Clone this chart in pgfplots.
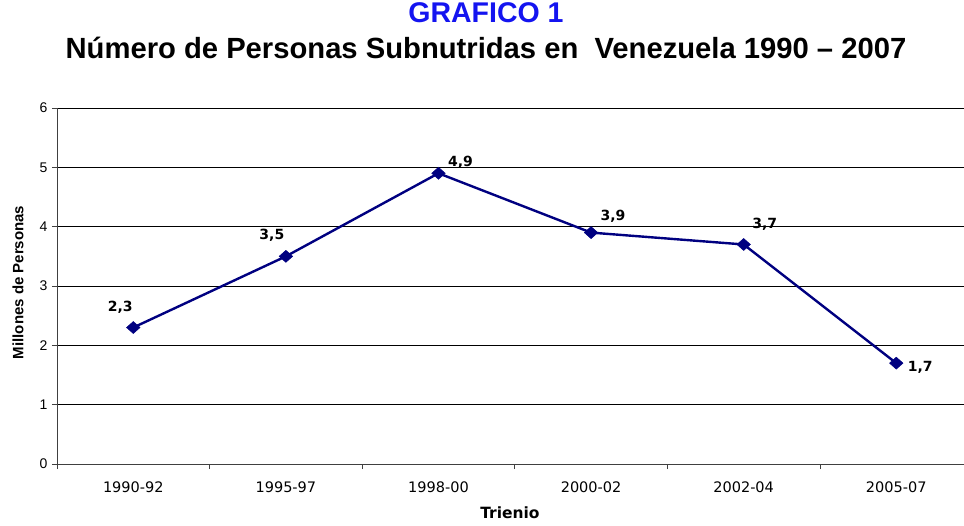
\documentclass[border=0pt]{standalone}
\usepackage{fontspec}
\setmainfont{Liberation Sans}
\newfontfamily\dv{DejaVu Sans}
\usepackage{pgfplots}
\pgfplotsset{compat=1.18}
\definecolor{navyc}{RGB}{0,0,128}
\definecolor{titleblue}{RGB}{20,20,240}
\pgfplotsset{dlabel/.style 2 args={draw=none, point meta=explicit symbolic,
  nodes near coords, nodes near coords style={anchor=center, xshift=#1, yshift=#2,
  font=\dv\bfseries\fontsize{14}{16}\selectfont}}}
\begin{document}
\begin{tikzpicture}
\path[use as bounding box] (0pt,0pt) rectangle (964pt,525pt);
\begin{axis}[at={(57pt,61pt)}, anchor=south west, scale only axis,
  width=907pt, height=356pt,
  xmin=-0.5, xmax=5.444, ymin=0, ymax=6,
  axis x line=bottom, axis y line=left,
  axis line style={-, line width=0.8pt, black!75},
  xtick={0,...,5},
  xticklabels={1990-92,1995-97,1998-00,2000-02,2002-04,2005-07},
  major x tick style={draw=none},
  minor xtick={-0.5,0.5,1.5,2.5,3.5,4.5},
  minor x tick style={black!75, line width=0.6pt},
  ytick={0,...,6},
  y tick style={black!75, line width=0.6pt},
  ymajorgrids, grid style={black, line width=0.6pt},
  tick align=outside, major tick length=5pt, minor tick length=5pt,
  xticklabel style={font=\dv\fontsize{14.5}{16}\selectfont, yshift=-9pt},
  yticklabel style={font=\fontsize{14}{16}\selectfont, xshift=-1pt},
  /pgf/number format/assume math mode=true,
  xlabel={\dv\bfseries\fontsize{15.5}{18}\selectfont Trienio},
  xlabel style={at={(axis description cs:0.4994,-0.1376)}, anchor=center},
  ylabel={\bfseries\fontsize{15}{17}\selectfont Millones de Personas},
  ylabel style={at={(axis description cs:-0.043,0.51)}, anchor=center},
  clip=false,
]
\addplot[navyc, line width=2.4pt, mark=diamond*, mark size=6pt,
  mark options={fill=navyc, draw=navyc, line width=0.5pt, xscale=1.5}] coordinates {
  (0,2.3) (1,3.5) (2,4.9) (3,3.9) (4,3.7) (5,1.7)};
\addplot[dlabel={-13pt}{20pt}] coordinates {(0,2.3) [2,3]};
\addplot[dlabel={-14pt}{21pt}] coordinates {(1,3.5) [3,5]};
\addplot[dlabel={22pt}{11pt}] coordinates {(2,4.9) [4,9]};
\addplot[dlabel={22pt}{16pt}] coordinates {(3,3.9) [3,9]};
\addplot[dlabel={21pt}{20pt}] coordinates {(4,3.7) [3,7]};
\addplot[dlabel={24pt}{-4pt}] coordinates {(5,1.7) [1,7]};
\end{axis}
\node[font=\bfseries\fontsize{28.5}{32}\selectfont, text=titleblue] at (486pt,512pt) {GRAFICO 1};
\node[font=\bfseries\fontsize{29.2}{33}\selectfont] at (486pt,477pt) {Número de Personas Subnutridas en\ \ Venezuela 1990 – 2007};
\end{tikzpicture}
\end{document}
